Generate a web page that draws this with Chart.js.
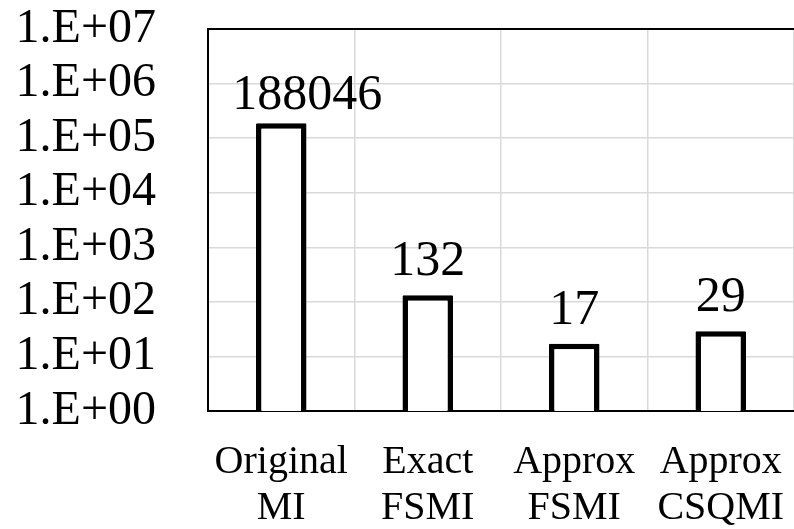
<!DOCTYPE html>
<html lang="en">
<head>
<meta charset="UTF-8">
<title>Computation time</title>
<script src="https://cdn.jsdelivr.net/npm/chart.js"></script>
<style>
  html, body { margin: 0; padding: 0; background: #fff; }
  #wrap { width: 794px; height: 529px; }
</style>
</head>
<body>
<div id="wrap"><canvas id="chart"></canvas></div>
<script>
// data
const categories = [['Original', 'MI'], ['Exact', 'FSMI'], ['Approx', 'FSMI'], ['Approx', 'CSQMI']];
const values = [188046, 132, 17, 29];
const yTickValues = [1, 10, 100, 1000, 10000, 100000, 1000000, 10000000];
const yTickLabels = ['1.E+00', '1.E+01', '1.E+02', '1.E+03', '1.E+04', '1.E+05', '1.E+06', '1.E+07'];

const serif = "'Liberation Serif', 'Times New Roman', serif";

// value labels above the bars
const barLabels = {
    id: 'barLabels',
    afterDatasetsDraw(chart) {
        const ctx = chart.ctx;
        const meta = chart.getDatasetMeta(0);
        ctx.save();
        ctx.font = '50px ' + serif;
        ctx.fillStyle = '#000';
        ctx.textAlign = 'center';
        ctx.textBaseline = 'alphabetic';
        meta.data.forEach((bar, i) => {
            // first label was nudged right in the original so it clears the axis
            const dx = i === 0 ? 26 : 0;
            const dy = i === 0 ? 14 : 20;
            ctx.fillText(String(values[i]), bar.x + dx, bar.y - dy);
        });
        ctx.restore();
    }
};

const ctx = document.getElementById('chart').getContext('2d');
const chart = new Chart(ctx, {
    type: 'bar',
    data: {
        labels: categories,
        datasets: [{
            data: values,
            backgroundColor: '#ffffff',
            borderColor: '#000000',
            borderWidth: 5.5,
            borderRadius: 1,
            barPercentage: 0.69,
            categoryPercentage: 0.5
        }]
    },
    options: {
        responsive: true,
        maintainAspectRatio: false,
        animation: false,
        layout: { padding: { top: 29, right: 0, bottom: 0, left: 0 } },
        plugins: {
            legend: { display: false },
            tooltip: { enabled: false }
        },
        scales: {
            x: {
                grid: {
                    drawTicks: false,
                    lineWidth: 1.5,
                    color: c => (c.index === categories.length ? 'rgba(0,0,0,0)' : '#d9d9d9')
                },
                border: { color: '#000', width: 2 },
                ticks: {
                    color: '#000',
                    font: { family: serif, size: 40, lineHeight: 1.15 },
                    padding: 28,
                    maxRotation: 0,
                    autoSkip: false
                },
                afterFit(scale) { scale.height = 118; scale.paddingRight = 0; scale.paddingLeft = 0; }
            },
            y: {
                type: 'logarithmic',
                min: 1,
                max: 10000000,
                grid: {
                    drawTicks: false,
                    lineWidth: c => (c.tick && c.tick.value === 10000000 ? 2 : 1.5),
                    color: c => (c.tick && c.tick.value === 10000000 ? '#000' : '#d9d9d9')
                },
                border: { color: '#000', width: 2 },
                ticks: {
                    color: '#000',
                    font: { family: serif, size: 48, lineHeight: 1 },
                    padding: 52,
                    autoSkip: false,
                    callback: v => yTickLabels[Math.round(Math.log10(v))]
                },
                afterBuildTicks(scale) {
                    scale.ticks = yTickValues.map(v => ({ value: v }));
                },
                afterFit(scale) { scale.width = 208; scale.paddingTop = 0; scale.paddingBottom = 0; }
            }
        }
    },
    plugins: [barLabels]
});
</script>
</body>
</html>
